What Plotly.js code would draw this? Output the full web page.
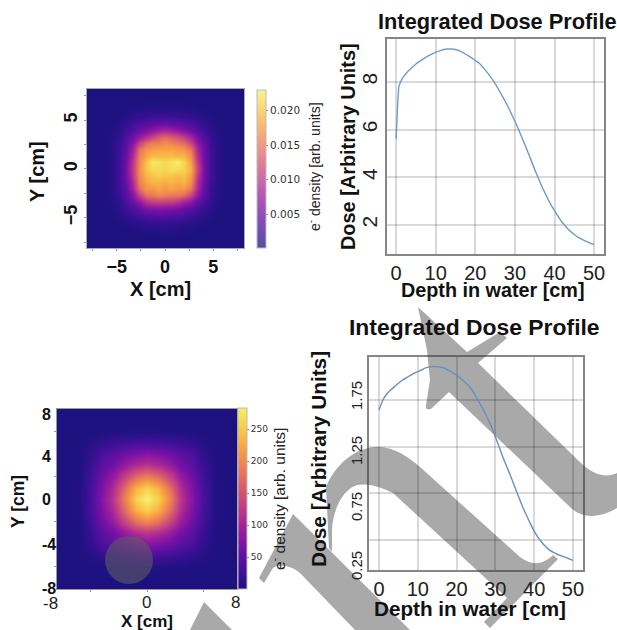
<!DOCTYPE html>
<html><head><meta charset="utf-8">
<script src="https://cdn.plot.ly/plotly-3.0.1.min.js"></script>
<style>html,body{margin:0;padding:0;background:#fff}#g{width:617px;height:630px}</style></head>
<body><div id="g"></div>
<script>
const depth = [0,0.7,1,2,3,4,5,6,7,8,9,10,11,12,13,14,15,16,17,18,19,20,21,22,23,24,25,26,27,28,29,30,31,32,33,34,35,36,37,38,39,40,41,42,43,44,45,46,47,48,49,50];
const doseTop = [5.6,7.8,7.95,8.25,8.45,8.6,8.75,8.87,8.98,9.08,9.17,9.25,9.3,9.36,9.38,9.38,9.36,9.3,9.22,9.12,9.02,8.9,8.78,8.6,8.4,8.18,7.93,7.65,7.35,7.05,6.7,6.35,5.97,5.57,5.17,4.75,4.33,3.93,3.55,3.2,2.87,2.6,2.33,2.1,1.9,1.73,1.6,1.48,1.39,1.31,1.24,1.18];
const depthBottom = [0,1,2,3,4,5,6,7,8,9,10,11,12,13,14,15,16,17,18,19,20,21,22,23,24,25,26,27,28,29,30,31,32,33,34,35,36,37,38,39,40,41,42,43,44,45,46,47,48,49,50];
const doseBottom = [1.643,1.75,1.814,1.857,1.893,1.929,1.961,1.986,2.011,2.036,2.054,2.071,2.093,2.104,2.107,2.107,2.1,2.089,2.068,2.043,2.014,1.982,1.946,1.907,1.857,1.786,1.714,1.636,1.554,1.464,1.357,1.243,1.132,1.029,.929,.821,.714,.607,.518,.429,.346,.279,.225,.179,.143,.118,.096,.082,.068,.05,.032];

const gridTop = [-8,-7.33,-6.67,-6,-5.33,-4.67,-4,-3.33,-2.67,-2,-1.33,-0.67,0,0.67,1.33,2,2.67,3.33,4,4.67,5.33,6,6.67,7.33,8];
const gridTopY = [8,7.33,6.67,6,5.33,4.67,4,3.33,2.67,2,1.33,0.67,0,-0.67,-1.33,-2,-2.67,-3.33,-4,-4.67,-5.33,-6,-6.67,-7.33,-8];
// electron density, in thousandths
const densityTop = [
[0,0,0,0,0,0,0,0,0,0,0,0,0,0,0,0,0,0,0,0,0,0,0,0,0],
[0,0,0,0,0,0,0,0,0,0,0,0,0,0,0,0,0,0,0,0,0,0,0,0,0],
[0,0,0,0,0,0,0,.1,.2,.2,.3,.3,.4,.3,.3,.2,.2,.1,0,0,0,0,0,0,0],
[0,0,0,0,0,.1,.2,.4,.6,.8,.9,.8,1.1,.9,.8,.7,.5,.3,.2,.1,0,0,0,0,0],
[0,0,0,0,.1,.4,.7,1.1,1.5,1.9,2.1,2.2,2.3,2.2,2,1.8,1.4,1,.6,.4,.1,0,0,0,0],
[0,0,0,0,.4,.8,1.4,2.2,2.9,3.4,3.8,4,4.2,4,3.8,3.4,2.9,2.2,1.4,.8,.4,0,0,0,0],
[0,0,0,.2,.6,1.2,2.2,3.2,4.4,5.5,6.5,7.5,8,7.5,6.5,5.5,4.4,3.2,2.2,1.2,.6,.2,0,0,0],
[0,0,0,.3,.8,1.6,3,5,7,9,11,13,14,13,12,10.5,8,5.5,3.2,1.6,.8,.3,0,0,0],
[0,0,.1,.4,1,2.1,3.8,6.5,10.5,14,15.5,15.5,16.5,16,15,14,11,7,4,2.1,1,.4,.1,0,0],
[0,0,.1,.4,1.1,2.4,4.3,8,14,17,17.5,18,18,18,17.5,17,14.5,8.5,4.6,2.4,1.1,.4,.1,0,0],
[0,0,.1,.4,1.2,2.5,4.6,9,15.5,18,19.5,19.5,19.5,19.5,19,19,16.5,9.5,4.9,2.5,1.1,.4,.1,0,0],
[0,0,.1,.4,1.2,2.6,5,10,16,20,22.5,22,21.5,22,23,21,17.5,10.5,5.2,2.6,1.2,.4,.1,0,0],
[0,0,.1,.4,1.2,2.6,5.2,10.5,16.5,20,21.5,21.5,21,22,21.5,21,18.5,11.5,5.2,2.6,1.2,.4,.1,0,0],
[0,0,.1,.4,1.2,2.6,5,10,16,19,20,20.5,20,20,19.5,20,17.5,10.5,5,2.5,1.2,.4,.1,0,0],
[0,0,.1,.4,1.2,2.5,4.6,9,15.5,18,19,19,18.5,19,18.5,19,16.5,9.5,4.6,2.3,1,.4,.1,0,0],
[0,0,.1,.4,1.1,2.3,4.2,8,14,17,17,18,17,18,17,17,14.5,8.5,4.3,2.1,.9,.3,.1,0,0],
[0,0,.1,.3,1,2,3.7,6.5,10.5,14.5,15,16,15.5,15,15,14,11,7,3.7,1.9,.8,.3,.1,0,0],
[0,0,0,.3,.7,1.5,3,5,7,10,11,11.5,11,11,10,8.5,7,4.5,2.8,1.4,.7,.2,0,0,0],
[0,0,0,.2,.6,1.1,2.2,3.2,4.4,5.8,6.3,6.5,6.2,6,5.6,4.6,3.8,2.8,1.8,1,.5,.1,0,0,0],
[0,0,0,0,.3,.7,1.3,2.1,2.8,3.3,3.6,3.7,3.7,3.6,3.3,2.9,2.3,1.6,1,.5,.2,0,0,0,0],
[0,0,0,0,.1,.3,.6,1,1.4,1.8,1.9,1.9,2,1.9,1.8,1.5,1.1,.7,.4,.2,0,0,0,0,0],
[0,0,0,0,0,.1,.2,.4,.5,.7,.8,.7,.9,.8,.7,.5,.4,.2,.1,0,0,0,0,0,0],
[0,0,0,0,0,0,0,.1,.1,.2,.2,.3,.3,.3,.2,.2,.1,.1,0,0,0,0,0,0,0],
[0,0,0,0,0,0,0,0,0,0,0,0,0,0,0,0,0,0,0,0,0,0,0,0,0],
[0,0,0,0,0,0,0,0,0,0,0,0,0,0,0,0,0,0,0,0,0,0,0,0,0]];

const gridBottom = [-8,-7,-6,-5,-4,-3,-2,-1,0,1,2,3,4,5,6,7,8];
const gridBottomY = [8,7,6,5,4,3,2,1,0,-1,-2,-3,-4,-5,-6,-7,-8];
const densityBottom = [
[0,0,0,0,0,0,0,0,0,0,0,0,0,0,0,0,0],
[0,0,0,0,0,0,0,0,0,0,0,0,0,0,0,0,0],
[0,0,0,1,2,3,3,4,4,4,3,3,2,1,0,0,0],
[0,0,1,8,15,22,28,32,35,32,28,22,15,8,1,0,0],
[0,0,2,15,36,46,60,70,76,70,60,46,36,15,2,0,0],
[0,0,3,22,46,62,88,108,118,108,88,62,46,22,3,0,0],
[0,0,3,28,60,88,135,175,195,175,135,88,60,28,3,0,0],
[0,0,4,32,70,108,175,232,256,232,175,108,70,32,4,0,0],
[0,0,4,35,76,118,195,256,283,256,195,118,76,35,4,0,0],
[0,0,4,32,70,108,175,232,256,232,175,108,70,32,4,0,0],
[0,0,3,28,60,88,135,175,195,175,135,88,60,28,3,0,0],
[0,0,3,22,46,62,88,108,118,108,88,62,46,22,3,0,0],
[0,0,2,15,36,46,60,70,76,70,60,46,36,15,2,0,0],
[0,0,1,8,15,22,28,32,35,32,28,22,15,8,1,0,0],
[0,0,0,1,2,3,3,4,4,4,3,3,2,1,0,0,0],
[0,0,0,0,0,0,0,0,0,0,0,0,0,0,0,0,0],
[0,0,0,0,0,0,0,0,0,0,0,0,0,0,0,0,0]];

const W = 617, H = 630;
const X = p => p / W, Y = p => 1 - p / H;
const font = 'Liberation Sans, Arial, sans-serif';
const heatColors = [[0,'#1d1180'],[.11,'#45109b'],[.22,'#7210a5'],[.33,'#9c1f9c'],[.44,'#bd3b88'],[.55,'#d6596e'],[.66,'#eb7b58'],[.77,'#f79f45'],[.88,'#f9c84a'],[1,'#f3f06a']];
const paleColors = [[0,'#564da0'],[.11,'#744cb4'],[.22,'#954cbc'],[.33,'#b557b5'],[.44,'#ce6ca6'],[.55,'#e08392'],[.66,'#f09c82'],[.77,'#f9b774'],[.88,'#fbd677'],[1,'#f6f48f']];
const barTitle = 'e<sup>-</sup> density [arb. units]';

const data = [
 {type:'heatmap', x:gridTop, y:gridTopY, z:densityTop, zmin:.1, zmax:23, zsmooth:'best', colorscale:heatColors, showscale:false, xaxis:'x', yaxis:'y', hoverinfo:'skip'},
 {type:'scatter', mode:'markers', x:[null,null], y:[null,null], xaxis:'x', yaxis:'y', showlegend:false,
  marker:{color:[.1,23], cmin:.1, cmax:23, colorscale:paleColors, showscale:true,
   colorbar:{x:X(257), xanchor:'left', y:Y(90), yanchor:'top', thicknessmode:'pixels', thickness:8.5, lenmode:'pixels', len:158, xpad:0, ypad:0,
    outlinecolor:'#bbbbbb', outlinewidth:1, ticks:'outside', ticklen:2, tickcolor:'#888', tickvals:[5,10,15,20], ticktext:['0.005','0.010','0.015','0.020'],
    tickfont:{family:'DejaVu Sans', size:10.5, color:'#333'}}}},
 {type:'scatter', mode:'lines', x:depth, y:doseTop, xaxis:'x2', yaxis:'y2', line:{color:'#6f9bc9', width:1.4, shape:'spline', smoothing:.5}, showlegend:false},
 {type:'heatmap', x:gridBottom, y:gridBottomY, z:densityBottom, zmin:0, zmax:283, zsmooth:'best', colorscale:heatColors, xaxis:'x3', yaxis:'y3', hoverinfo:'skip',
  colorbar:{x:X(238), xanchor:'left', y:Y(408), yanchor:'top', thicknessmode:'pixels', thickness:9, lenmode:'pixels', len:181, xpad:0, ypad:0,
   outlinecolor:'#bbbbbb', outlinewidth:1, ticks:'outside', ticklen:2, tickcolor:'#888', tickvals:[50,100,150,200,250],
   tickfont:{family:'DejaVu Sans', size:9, color:'#333'}}},
 {type:'scatter', mode:'lines', x:depthBottom, y:doseBottom, xaxis:'x4', yaxis:'y4', line:{color:'#6690bf', width:1.4, shape:'spline', smoothing:.5}, showlegend:false}
];

const bold = s => ({family:font, size:s, color:'#111', weight:700});
const reg = s => ({family:font, size:s, color:'#222'});
const grid = 'rgba(0,0,0,0.15)', frame = 'rgba(60,60,60,0.62)';
const heatAxis = {showgrid:false, zeroline:false, showline:true, mirror:true, linecolor:'#aaaaaa', linewidth:1, ticks:'outside', ticklen:2, tickcolor:'#999'};
const lineAxis = {showgrid:true, gridcolor:grid, gridwidth:1.5, zeroline:false, showline:true, mirror:true, linecolor:frame, linewidth:1.5, ticks:''};
const minorHeat = {tickvals:[-7.5,-2.5,2.5,7.5], ticks:'outside', ticklen:2, tickcolor:'#999'};

const ann = (text,x,y,font,extra) => Object.assign({text, x:X(x), y:Y(y), xref:'paper', yref:'paper', showarrow:false, xanchor:'center', yanchor:'middle', font}, extra||{});
const up = {textangle:-90};

const px = s => s.replace(/(-?\d+(?:\.\d+)?) (-?\d+(?:\.\d+)?)/g, (m,a,b)=> X(+a).toFixed(5)+' '+Y(+b).toFixed(5));
const mark = d => ({type:'path', xref:'paper', yref:'paper', layer:'below', path:px(d), fillcolor:'#a9a9a9', line:{width:0}});

const layout = {
 width:W, height:H, margin:{l:0,r:0,t:0,b:0}, paper_bgcolor:'#fff', plot_bgcolor:'rgba(0,0,0,0)', showlegend:false,
 xaxis:Object.assign({},heatAxis,{domain:[X(87),X(244)], range:[-8.1,8.2], anchor:'y', tickvals:[-5,0,5], minor:minorHeat, tickfont:bold(18), tickangle:0}),
 yaxis:Object.assign({},heatAxis,{domain:[Y(248),Y(89)], range:[-8.1,8.2], anchor:'x', tickvals:[-5,0,5], minor:minorHeat, tickfont:bold(18), tickangle:-90}),
 xaxis2:Object.assign({},lineAxis,{domain:[X(387),X(604)], range:[-2.3,52.5], anchor:'y2', tickvals:[0,10,20,30,40,50], tickfont:reg(20), tickangle:0}),
 yaxis2:Object.assign({},lineAxis,{domain:[Y(254),Y(39)], range:[.78,9.8], anchor:'x2', tickvals:[2,4,6,8], tickfont:reg(21), tickangle:-90}),
 xaxis3:Object.assign({},heatAxis,{domain:[X(57),X(237)], range:[-8,8], anchor:'y3', tickvals:[-5,0,5], showticklabels:false, linecolor:'#999'}),
 yaxis3:Object.assign({},heatAxis,{domain:[Y(589),Y(409)], range:[-8,8], anchor:'x3', tickvals:[-6,-2,2,6], showticklabels:false, linecolor:'#999'}),
 xaxis4:Object.assign({},lineAxis,{domain:[X(369),X(583)], range:[-2.58,52.6], anchor:'y4', tickvals:[0,10,20,30,40,50], tickfont:reg(20), tickangle:0}),
 yaxis4:Object.assign({},lineAxis,{domain:[Y(570),Y(357)], range:[-.07,2.21], anchor:'x4', tickvals:[.25,.75,1.25,1.75], showticklabels:false}),
 annotations:[
  ann('Integrated Dose Profile',497,22,bold(21.8)),
  ann('Integrated Dose Profile',475,327,bold(22.9)),
  ann('X [cm]',160,289,bold(20)), ann('Y [cm]',37,172,bold(20),up),
  ann('Depth in water [cm]',493,290,bold(19.8)), ann('Dose [Arbitrary Units]',348,146,bold(19.9),up),
  ann('X [cm]',147,621,bold(17)), ann('Y [cm]',18,502,bold(17.5),up),
  ann('Depth in water [cm]',470,608,bold(20.7)), ann('Dose [Arbitrary Units]',318,459,bold(20.8),up),
  ann(barTitle,314,167,reg(14),up), ann(barTitle,278,499,reg(15.5),up),
  ann('-8',50,603,reg(17)), ann('0',146,602,reg(17)), ann('8',235,602,reg(17)),
  ann('8',40,414,bold(16),{xanchor:'left'}), ann('4',40,456,bold(16),{xanchor:'left'}), ann('0',40,499,bold(16),{xanchor:'left'}), ann('-4',40,544,bold(16),{xanchor:'left'}), ann('-8',40,588,bold(16),{xanchor:'left'}),
  ann('1.75',356,396,reg(15),up), ann('1.25',356,451,reg(15),up), ann('0.75',356,507,reg(15),up), ann('0.25',356,566,reg(15),up)
 ],
 shapes:[
  mark('M418 307 L467 352 L500 332 L507 338 L478 363 L583 465 C 592 473 605 479 617 473 L617 508 C 605 515 585 522 570 507 L449 392 L432 408 C 428 411 425 409 426 405 L430 380 L427 350 Z'),
  mark('M326 487 C 335 465 355 447 378 447 C 395 447 408 457 420 467 L520 557 C 530 565 542 566 553 555 L558 559 L490 628 L484 622 L507 598 L393 493 C 380 486 366 483 357 485 C 342 490 333 510 332 530 L332 552 L329 548 Z'),
  mark('M293 514 L410 630 L355 630 L300 573 C 291 566 281 563 273 568 L264 583 L259 578 Z'),
  mark('M204 602 L232 630 L190 630 Z'),
  {type:'circle', xref:'paper', yref:'paper', layer:'above', x0:X(105), x1:X(153), y0:Y(584), y1:Y(536), fillcolor:'rgba(96,96,96,0.57)', line:{width:0}}
 ]
};
Plotly.newPlot('g', data, layout, {displayModeBar:false, responsive:false});
</script></body></html>
